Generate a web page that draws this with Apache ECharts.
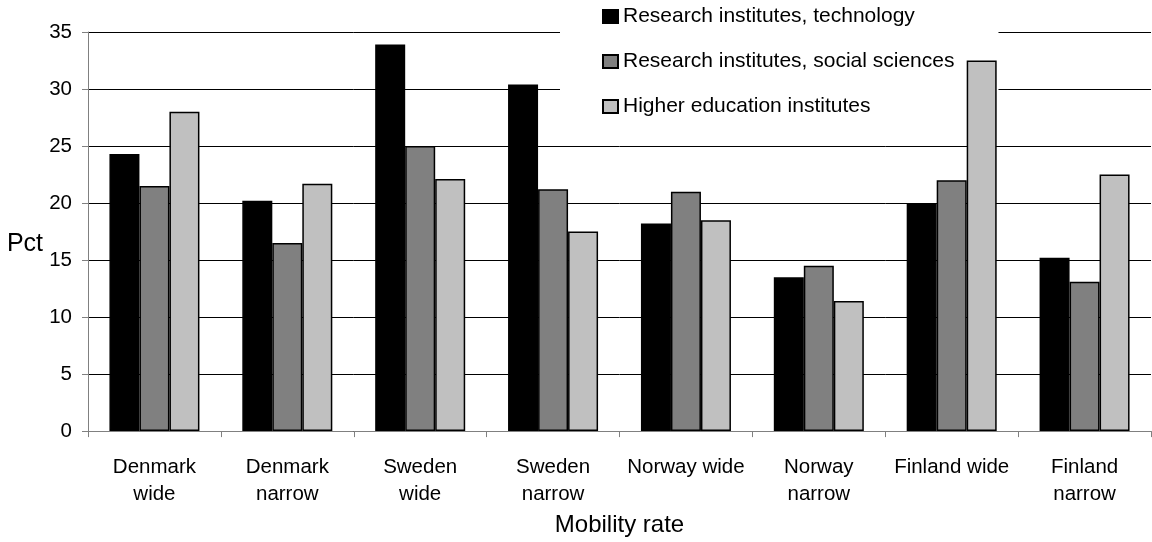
<!DOCTYPE html>
<html>
<head>
<meta charset="utf-8">
<script src="https://cdn.jsdelivr.net/npm/echarts@6/dist/echarts.min.js"></script>
<style>
html,body{margin:0;padding:0;background:#fff;}
#chart{width:1152px;height:542px;}
</style>
</head>
<body>
<div id="chart"></div>
<script>
const categories = ['Denmark\nwide', 'Denmark\nnarrow', 'Sweden\nwide', 'Sweden\nnarrow', 'Norway wide', 'Norway\nnarrow', 'Finland wide', 'Finland\nnarrow'];
const seriesNames = ['Research institutes, technology', 'Research institutes, social sciences', 'Higher education institutes'];
const techValues = [24.3, 20.2, 33.9, 30.4, 18.2, 13.5, 20.0, 15.2];
const socialValues = [21.5, 16.5, 25.0, 21.2, 21.0, 14.5, 22.0, 13.1];
const higherValues = [28.0, 21.7, 22.1, 17.5, 18.5, 11.4, 32.5, 22.5];
const yTicks = [0, 5, 10, 15, 20, 25, 30, 35];

const colors = ['#000000', '#808080', '#c0c0c0'];
const font = '"Liberation Sans", Arial, sans-serif';
const allValues = [techValues, socialValues, higherValues];

const chart = echarts.init(document.getElementById('chart'));
chart.setOption({
  animation: false,
  textStyle: { fontFamily: font },
  grid: { left: 88, right: 1, top: 32, bottom: 107, containLabel: false },
  legend: {
    orient: 'vertical',
    left: 560,
    top: 0,
    z: 1,
    backgroundColor: '#ffffff',
    padding: [6, 44, 10, 42],
    itemWidth: 15,
    itemHeight: 13,
    itemGap: 24,
    selectedMode: false,
    textStyle: { fontSize: 21, color: '#000', fontFamily: font, lineHeight: 21 },
    data: seriesNames.map(n => ({ name: n, icon: 'rect' }))
  },
  xAxis: {
    type: 'category',
    data: categories,
    name: 'Mobility rate',
    nameLocation: 'middle',
    nameGap: 80,
    nameTextStyle: { fontSize: 24, color: '#000', fontFamily: font },
    axisLine: { show: true, lineStyle: { color: '#808080', width: 1 } },
    axisTick: { show: true, length: 6, lineStyle: { color: '#808080' } },
    axisLabel: { fontSize: 20.5, color: '#000', margin: 23, lineHeight: 27, interval: 0, fontFamily: font },
    splitLine: { show: false }
  },
  yAxis: {
    type: 'value',
    min: 0,
    max: 35,
    interval: 5,
    name: 'Pct',
    nameLocation: 'middle',
    nameRotate: 0,
    nameGap: 45,
    nameTextStyle: { fontSize: 25, color: '#000', fontFamily: font, verticalAlign: 'top' },
    axisLine: { show: true, lineStyle: { color: '#808080', width: 1 } },
    axisTick: { show: true, length: 6, lineStyle: { color: '#808080' } },
    axisLabel: { fontSize: 20.5, color: '#000', margin: 16, fontFamily: font,
      formatter: v => yTicks.includes(v) ? String(v) : '' },
    splitLine: { show: true, lineStyle: { color: '#000', width: 1 } }
  },
  series: seriesNames.map((n, i) => ({
    name: n,
    type: 'bar',
    z: 2,
    data: allValues[i],
    barWidth: 30,
    barGap: '0%',
    itemStyle: { color: colors[i], borderColor: '#000', borderWidth: 1.5 }
  }))
});
</script>
</body>
</html>
